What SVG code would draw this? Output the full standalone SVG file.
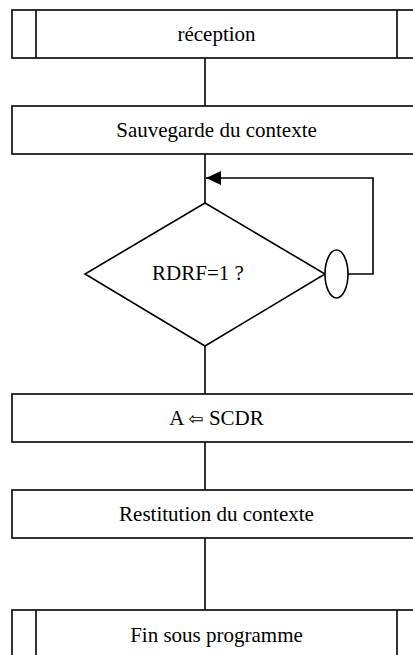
<svg xmlns="http://www.w3.org/2000/svg" width="413" height="655" viewBox="0 0 413 655">
<style>
.s{fill:#fff;stroke:#000;stroke-width:1.6}
.l{fill:none;stroke:#000;stroke-width:1.6}
.t{font-family:"Liberation Serif","Times New Roman",serif;font-size:21px;fill:#000;text-anchor:middle}
</style>
<defs>
<marker id="arr" markerWidth="16" markerHeight="14" refX="15" refY="7" orient="auto" markerUnits="userSpaceOnUse">
<path d="M0,0 L15,7 L0,14 Z" fill="#000"/>
</marker>
</defs>
<rect width="413" height="655" fill="#fff"/>
<g id="connectors">
<line class="l" x1="205" y1="58" x2="205" y2="106"/>
<line class="l" x1="205" y1="154" x2="205" y2="203"/>
<polyline class="l" points="348,274 373,274 373,178 206,178" marker-end="url(#arr)"/>
<line class="l" x1="205" y1="346" x2="205" y2="394"/>
<line class="l" x1="205" y1="442" x2="205" y2="490"/>
<line class="l" x1="205" y1="538" x2="205" y2="610"/>
</g>
<g id="reception">
<rect class="s" x="12" y="10" width="409" height="48"/>
<line class="l" x1="36" y1="10" x2="36" y2="58"/>
<line class="l" x1="397" y1="10" x2="397" y2="58"/>
<text class="t" x="216.5" y="41">réception</text>
</g>
<g id="sauvegarde">
<rect class="s" x="12" y="106" width="409" height="48"/>
<text class="t" x="216.5" y="137">Sauvegarde du contexte</text>
</g>
<g id="decision">
<polygon class="s" points="205,203 325,274 205,346 85,274"/>
<text class="t" x="198" y="280">RDRF=1 ?</text>
</g>
<g id="connector-oval">
<ellipse class="s" cx="336.5" cy="274" rx="11.5" ry="24"/>
</g>
<g id="lecture">
<rect class="s" x="12" y="394" width="409" height="48"/>
<text class="t" x="216.5" y="425">A <tspan font-family="DejaVu Sans" font-size="18">⇦</tspan> SCDR</text>
</g>
<g id="restitution">
<rect class="s" x="12" y="490" width="409" height="48"/>
<text class="t" x="216.5" y="521">Restitution du contexte</text>
</g>
<g id="fin">
<rect class="s" x="12" y="610" width="409" height="60"/>
<line class="l" x1="36" y1="610" x2="36" y2="670"/>
<line class="l" x1="397" y1="610" x2="397" y2="670"/>
<text class="t" x="216.5" y="641.5">Fin sous programme</text>
</g>
</svg>
